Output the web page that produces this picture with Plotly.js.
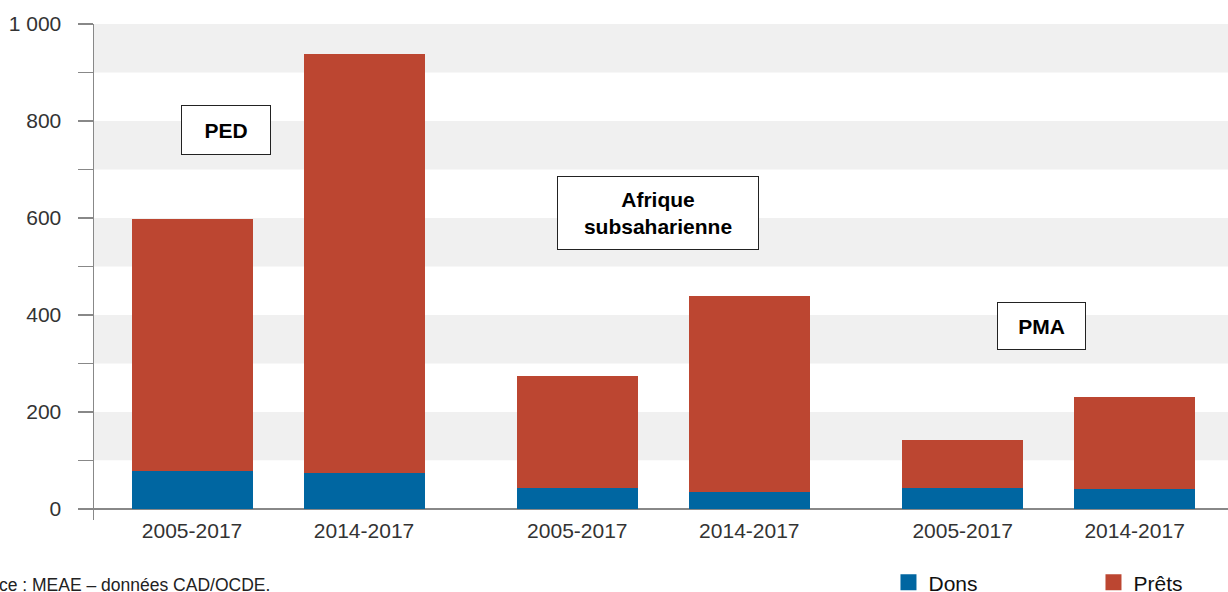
<!DOCTYPE html>
<html>
<head>
<meta charset="utf-8">
<script src="https://cdn.plot.ly/plotly-3.0.1.min.js"></script>
<style>html,body{margin:0;padding:0;background:#fff;}#chart{width:1228px;height:592px;}</style>
</head>
<body>
<div id="chart"></div>
<script>
const groups = ["PED", "Afrique subsaharienne", "PMA"];
const periods = ["2005-2017", "2014-2017"];
const seriesNames = ["Dons", "Prêts"];
const dons = [78, 73, 43, 34, 44, 40];
const prets = [520, 866, 230, 406, 97, 190];
const yTickValues = [0, 100, 200, 300, 400, 500, 600, 700, 800, 900, 1000];
const yTickLabels = ["0", "", "200", "", "400", "", "600", "", "800", "", "1 000"];

const GROUP_STEP = 2.24;
const xPos = [];
const xLabels = [];
groups.forEach((g, gi) => {
  periods.forEach((p, pi) => {
    xPos.push(gi * GROUP_STEP + pi);
    xLabels.push(p);
  });
});

const BLUE = "#0066a1";
const RED = "#bc4631";
const FONT = "Liberation Sans, Arial, sans-serif";

const traces = [
  {type: "bar", name: seriesNames[0], x: xPos, y: dons, marker: {color: BLUE}, width: 0.703, hoverinfo: "skip", showlegend: false},
  {type: "bar", name: seriesNames[1], x: xPos, y: prets, marker: {color: RED}, width: 0.703, hoverinfo: "skip", showlegend: false},
  {type: "scatter", mode: "markers", name: seriesNames[0], x: [null], y: [null],
    marker: {symbol: "square", size: 19, color: BLUE}, showlegend: true},
  {type: "scatter", mode: "markers", name: seriesNames[1], x: [null], y: [null],
    marker: {symbol: "square", size: 19, color: RED}, showlegend: true}
];

const shapes = [];
for (let v = 100; v < 1000; v += 200) {
  shapes.push({type: "rect", xref: "paper", yref: "y", x0: 0, x1: 1, y0: v, y1: v + 100,
    fillcolor: "#f0f0f0", line: {width: 0}, layer: "below"});
}

const boxStyle = {showarrow: false, bordercolor: "#222", borderwidth: 1, bgcolor: "#fff",
  font: {family: FONT, size: 21, color: "#000"}, xref: "x", yref: "y"};

const layout = {
  width: 1228, height: 592,
  margin: {l: 94, r: 0, t: 24, b: 72, autoexpand: false},
  paper_bgcolor: "#fff", plot_bgcolor: "#fff",
  barmode: "stack",
  showlegend: true,
  legend: {orientation: "h", x: 0.7006, xanchor: "left", y: -0.085, yanchor: "top",
    font: {family: FONT, size: 21, color: "#111"}, entrywidth: 160, traceorder: "normal"},
  xaxis: {range: [-0.57, 6.023], tickvals: xPos, ticktext: xLabels, showgrid: false,
    zeroline: false, showline: false, ticks: "", ticklabelstandoff: -4,
    tickfont: {family: FONT, size: 21, color: "#333"}, fixedrange: true},
  yaxis: {range: [-23, 1000], tickvals: yTickValues, ticktext: yTickLabels, showgrid: false,
    zeroline: true, zerolinecolor: "#888", zerolinewidth: 2,
    showline: true, linecolor: "#888", linewidth: 1.5,
    ticks: "outside", ticklen: 15, tickcolor: "#888", tickwidth: 1.5, ticklabelstandoff: 12,
    tickfont: {family: FONT, size: 21, color: "#333"}, fixedrange: true},
  shapes: shapes,
  annotations: [
    Object.assign({}, boxStyle, {x: 0.198, y: 781, text: "<b>PED</b>", width: 84, height: 44, borderpad: 2}),
    Object.assign({}, boxStyle, {x: 2.71, y: 610, text: "<b>Afrique<br>subsaharienne</b>", width: 196, height: 68, borderpad: 2}),
    Object.assign({}, boxStyle, {x: 4.94, y: 377, text: "<b>PMA</b>", width: 83, height: 42, borderpad: 2}),
    {xref: "paper", yref: "paper", x: 0.157, y: -0.131, xanchor: "right", yanchor: "middle", showarrow: false,
      text: "Source : MEAE – données CAD/OCDE.", font: {family: FONT, size: 17.5, color: "#222"}}
  ]
};

Plotly.newPlot("chart", traces, layout, {displayModeBar: false, staticPlot: true});
</script>
</body>
</html>
